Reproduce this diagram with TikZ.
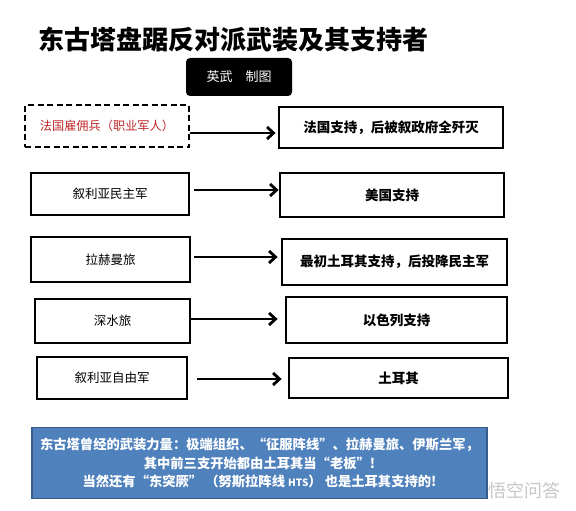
\documentclass[tikz,border=0pt]{standalone}
\usepackage{fontspec}
\setmainfont{Noto Sans CJK SC}
\usetikzlibrary{arrows.meta}
\definecolor{boxblue}{HTML}{4F81BD}
\definecolor{boxblueline}{HTML}{385D8A}
\definecolor{txtred}{HTML}{C0282B}
\tikzset{
  lbox/.style={draw=black, line width=2.8pt, fill=white, inner sep=0pt,
    font=\fontsize{12.5}{14}\selectfont},
  rbox/.style={draw=black, line width=2.8pt, fill=white, inner sep=0pt,
    font=\fontsize{13.5}{15}\selectfont\bfseries},
  arr/.style={line width=2.8pt, -{Straight Barb[length=6.5pt,width=12pt,line width=2.8pt]}},
}
\begin{document}
\begin{tikzpicture}[x=1pt,y=-1pt]
\useasboundingbox (0,0) rectangle (576,511);
\fill[white] (0,0) rectangle (576,511);

% title
\node (title) at (233,40) {\fontsize{26}{28}\selectfont\bfseries 东古塔盘踞反对派武装及其支持者};
\node[fill=black, rounded corners=4pt, minimum width=106pt, minimum height=38pt, inner sep=0pt,
  text=white, font=\fontsize{13}{14}\selectfont] (credit) at (239,77) {英武\hspace{1em}制图};

% row 1
\node[lbox, dash pattern=on 6pt off 3.5pt, minimum width=164pt, minimum height=42pt, text=txtred,
  font=\fontsize{12.2}{14}\selectfont] (l1) at (107,126) {法国雇佣兵（职业军人）};
\node[rbox, minimum width=224pt, minimum height=41pt] (r1) at (391,127.5) {法国支持，后被叙政府全歼灭};
\draw[arr] (l1.east |- 0,133) -- ([xshift=-2pt]r1.west |- 0,133);

% row 2
\node[lbox, minimum width=158pt, minimum height=42pt] (l2) at (110,194) {叙利亚民主军};
\node[rbox, minimum width=224pt, minimum height=44pt] (r2) at (392,195) {美国支持};
\draw[arr] ([xshift=4pt]l2.east |- 0,190) -- (r2.west |- 0,190);

% row 3
\node[lbox, minimum width=159pt, minimum height=45pt] (l3) at (110.5,259.5) {拉赫曼旅};
\node[rbox, minimum width=225pt, minimum height=46pt] (r3) at (394.5,262) {最初土耳其支持，后投降民主军};
\draw[arr] ([xshift=3pt]l3.east |- 0,257) -- ([xshift=-3pt]r3.west |- 0,257);

% row 4
\node[lbox, minimum width=155pt, minimum height=44pt] (l4) at (112.5,321) {深水旅};
\node[rbox, minimum width=221pt, minimum height=46pt] (r4) at (396.5,320) {以色列支持};
\draw[arr] (l4.east |- 0,319) -- ([xshift=-7pt]r4.west |- 0,319);

% row 5
\node[lbox, minimum width=150pt, minimum height=42pt] (l5) at (112,378) {叙利亚自由军};
\node[rbox, minimum width=219pt, minimum height=40pt] (r5) at (398.5,378) {土耳其};
\draw[arr] ([xshift=9pt]l5.east |- 0,379) -- ([xshift=-6pt]r5.west |- 0,379);

% bottom note
\node[fill=boxblue, draw=boxblueline, line width=1.6pt, minimum width=455pt, minimum height=71pt,
  inner sep=0pt, text=white, align=center,
  font=\fontsize{13.3}{18.5}\selectfont\bfseries] (note) at (259.5,463)
  {东古塔曾经的武装力量：极端组织、“征服阵线”、拉赫曼旅、伊斯兰军，\\
   其中前三支开始都由土耳其当“老板”!\\
   当然还有“东突厥” （努斯拉阵线 {\fontsize{10}{12}\selectfont HTS}） 也是土耳其支持的!};

% watermark
\node[text=black!22, font=\fontsize{18}{20}\selectfont, inner sep=0pt, anchor=west] (wm) at (488,491) {悟空问答};
\end{tikzpicture}
\end{document}
